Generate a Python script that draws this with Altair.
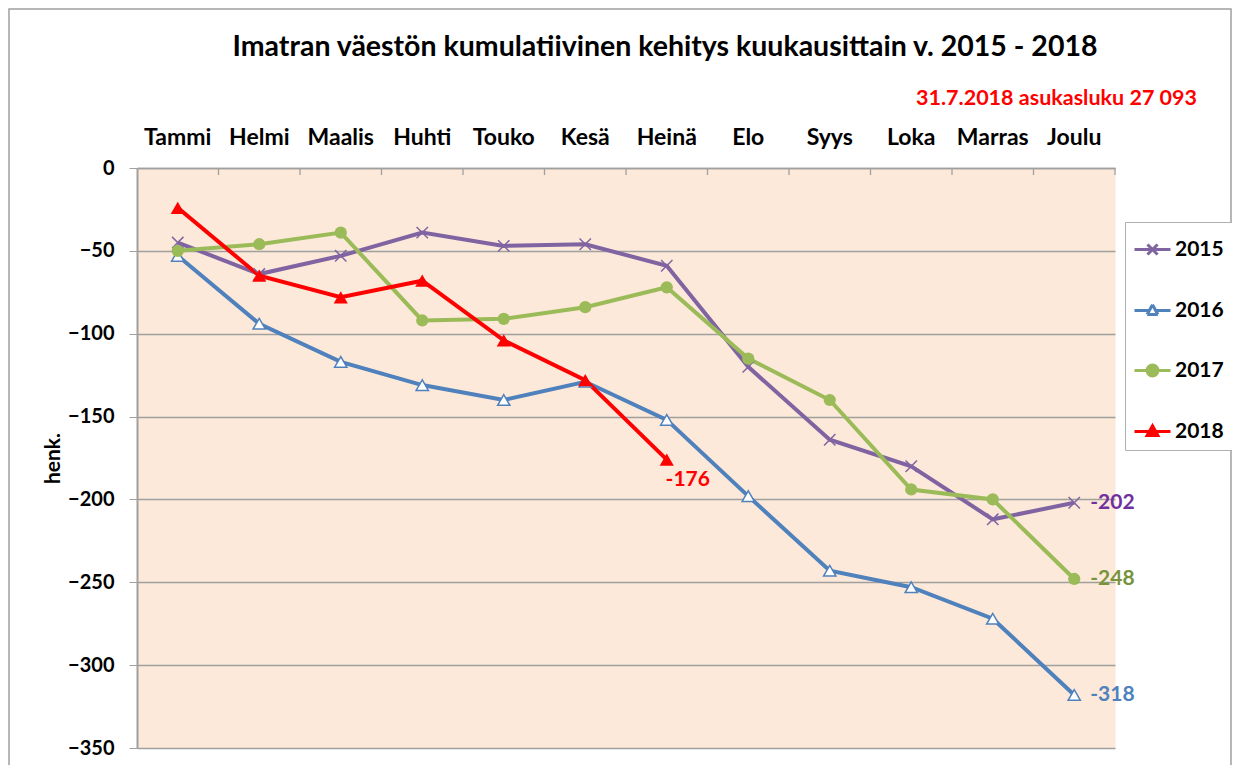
import altair as alt
import pandas as pd

months = ["Tammi", "Helmi", "Maalis", "Huhti", "Touko", "Kesä", "Heinä",
          "Elo", "Syys", "Loka", "Marras", "Joulu"]
years = ["2015", "2016", "2017", "2018"]
v2015 = [-45, -64, -53, -39, -47, -46, -59, -120, -164, -180, -212, -202]
v2016 = [-53, -94, -117, -131, -140, -129, -152, -198, -243, -253, -272, -318]
v2017 = [-50, -46, -39, -92, -91, -84, -72, -115, -140, -194, -200, -248]
v2018 = [-24, -65, -78, -68, -104, -128, -176]
line_colors = ["#8064A2", "#4F81BD", "#9BBB59", "#FF0000"]
marker_fills = ["transparent", "white", "#9BBB59", "#FF0000"]
label_colors = ["#7030A0", "#4F81BD", "#77933C", "#FF0000"]
y_ticks = [0, -50, -100, -150, -200, -250, -300, -350]
title_text = "Imatran väestön kumulatiivinen kehitys kuukausittain v. 2015 - 2018"
subtitle_text = "31.7.2018 asukasluku 27 093"
y_title = "henk."

FONT = "Lato"
series = [v2015, v2016, v2017, v2018]
rows = []
for yi, (yr, vals) in enumerate(zip(years, series)):
    for mi, v in enumerate(vals):
        rows.append({"month": months[mi], "year": yr, "value": v,
                     "last": mi == len(vals) - 1, "lc": label_colors[yi],
                     "txt": str(v)})
df = pd.DataFrame(rows)
df_months = pd.DataFrame({"month": months})

x_scale = alt.Scale(type="band", domain=months, paddingInner=0, paddingOuter=0)
y_scale = alt.Scale(domain=[-350, 0], nice=False, zero=False)

x_axis = alt.Axis(orient="top", labelFont=FONT, labelFontSize=23,
                  labelFontWeight="bold", labelColor="black",
                  labelPadding=19, tickSize=0, domainColor="#a0a0a0",
                  domainWidth=1.5, labelAngle=0, grid=False)
y_axis = alt.Axis(values=y_ticks, labelFont=FONT, labelFontSize=20,
                  labelFontWeight="bold", labelColor="black",
                  tickSize=8, tickColor="#a0a0a0", domainColor="#a0a0a0",
                  domainWidth=2, labelPadding=15, grid=True,
                  gridColor="#a0a0a0", gridWidth=1.3, titleFont=FONT,
                  titleFontSize=21, titleFontWeight="bold",
                  titleColor="black", titlePadding=4)
X = alt.X("month:N", sort=months, scale=x_scale, title=None, axis=x_axis)
Y = alt.Y("value:Q", scale=y_scale, title=y_title, axis=y_axis)

base = alt.Chart(df)

legend_shapes = [
    "M-1,0H1M-0.28,-0.28L0.28,0.28M-0.28,0.28L0.28,-0.28",
    "M-1,0H-0.18M0.18,0H1M0,-0.32L0.3,0.22M0.3,0.22L-0.3,0.22M-0.3,0.22L0,-0.32",
    "M-1,0H1M-0.3,0A0.3,0.3 0 1,0 0.3,0A0.3,0.3 0 1,0 -0.3,0Z",
    "M-1,0H1M0,-0.32L0.3,0.22L-0.3,0.22Z",
]

leg = dict(title=None, orient="none", legendX=988, legendY=54,
           labelFont=FONT, labelFontSize=21, labelFontWeight="bold",
           labelColor="black", symbolSize=1296, symbolStrokeWidth=3,
           rowPadding=30, padding=8, labelOffset=3,
           strokeColor="#b0b0b0", fillColor="white")

lines = base.mark_line(strokeWidth=4).encode(
    x=X, y=Y,
    color=alt.Color("year:N", scale=alt.Scale(domain=years, range=line_colors),
                    legend=alt.Legend(**leg)),
    detail="year:N",
)

legend_layer = base.transform_filter("datum.value > 1000").mark_point(
    size=1296, strokeWidth=3, opacity=1, filled=True).encode(
    x=X, y=Y,
    stroke=alt.Stroke("year:N", scale=alt.Scale(domain=years, range=line_colors),
                      legend=alt.Legend(**leg)),
    fill=alt.Fill("year:N", scale=alt.Scale(domain=years, range=marker_fills),
                  legend=alt.Legend(**leg)),
    shape=alt.Shape("year:N", scale=alt.Scale(domain=years, range=legend_shapes),
                    legend=alt.Legend(**leg)),
)

def pts(yr, **kw):
    return base.transform_filter(alt.datum.year == yr).mark_point(**kw).encode(
        x=X, y=Y)

p2015 = pts("2015", shape="M-1,-1L1,1M-1,1L1,-1", size=130, color="#8064A2",
            strokeWidth=1.5, filled=False, opacity=1)
p2016 = pts("2016", shape="triangle-up", size=150, stroke="#4F81BD", fill="white",
            strokeWidth=1.5, filled=True, opacity=1)
p2017 = pts("2017", shape="circle", size=150, color="#9BBB59", filled=True, opacity=1)
p2018 = pts("2018", shape="triangle-up", size=200, color="#FF0000", filled=True, opacity=1)

end_main = base.transform_filter("datum.last && datum.year != '2018'").mark_text(
    align="left", baseline="middle", dx=16, font=FONT, fontSize=21, fontWeight="bold"
).encode(x=X, y=Y, text="txt:N", color=alt.Color("lc:N", scale=None))
end_2018 = base.transform_filter("datum.last && datum.year == '2018'").mark_text(
    align="center", baseline="middle", dx=21, dy=20, font=FONT, fontSize=21,
    fontWeight="bold"
).encode(x=X, y=Y, text="txt:N", color=alt.Color("lc:N", scale=None))

ticks = alt.Chart(df_months).mark_rule(color="#a0a0a0", strokeWidth=1.3).encode(
    x=alt.X("month:N", sort=months, scale=x_scale, bandPosition=1,
            axis=x_axis, title=None),
    y=alt.value(0), y2=alt.value(7),
)

title = alt.Chart(pd.DataFrame({"t": [title_text]})).mark_text(
    font=FONT, fontSize=28.5, fontWeight="bold", color="black", align="center",
    baseline="middle").encode(text="t:N", x=alt.value(528), y=alt.value(-121))
subtitle = alt.Chart(pd.DataFrame({"t": [subtitle_text]})).mark_text(
    font=FONT, fontSize=21.5, fontWeight="bold", color="#FF0000", align="right",
    baseline="middle").encode(text="t:N", x=alt.value(1060), y=alt.value(-69))
border = alt.Chart(pd.DataFrame({"t": [0]})).mark_rect(
    fill="transparent", stroke="#a0a0a0", strokeWidth=1.5).encode(
    x=alt.value(-128), x2=alt.value(1094), y=alt.value(-159), y2=alt.value(640))

chart = alt.layer(border, lines, legend_layer, ticks, p2015, p2016, p2017, p2018,
                  end_main, end_2018, title, subtitle).properties(
    width=978, height=580,
    autosize=alt.AutoSizeParams(type="none"),
    padding={"left": 129, "top": 160, "right": 117, "bottom": 17},
).configure(background="white").configure_view(
    fill="#FDE9D9", stroke="transparent"
).configure_axisLeft(titleFont=FONT, titleFontSize=21, titleFontWeight="bold",
                     titleColor="black")

chart.save("out.html", embed_options={"renderer": "svg", "actions": False})
